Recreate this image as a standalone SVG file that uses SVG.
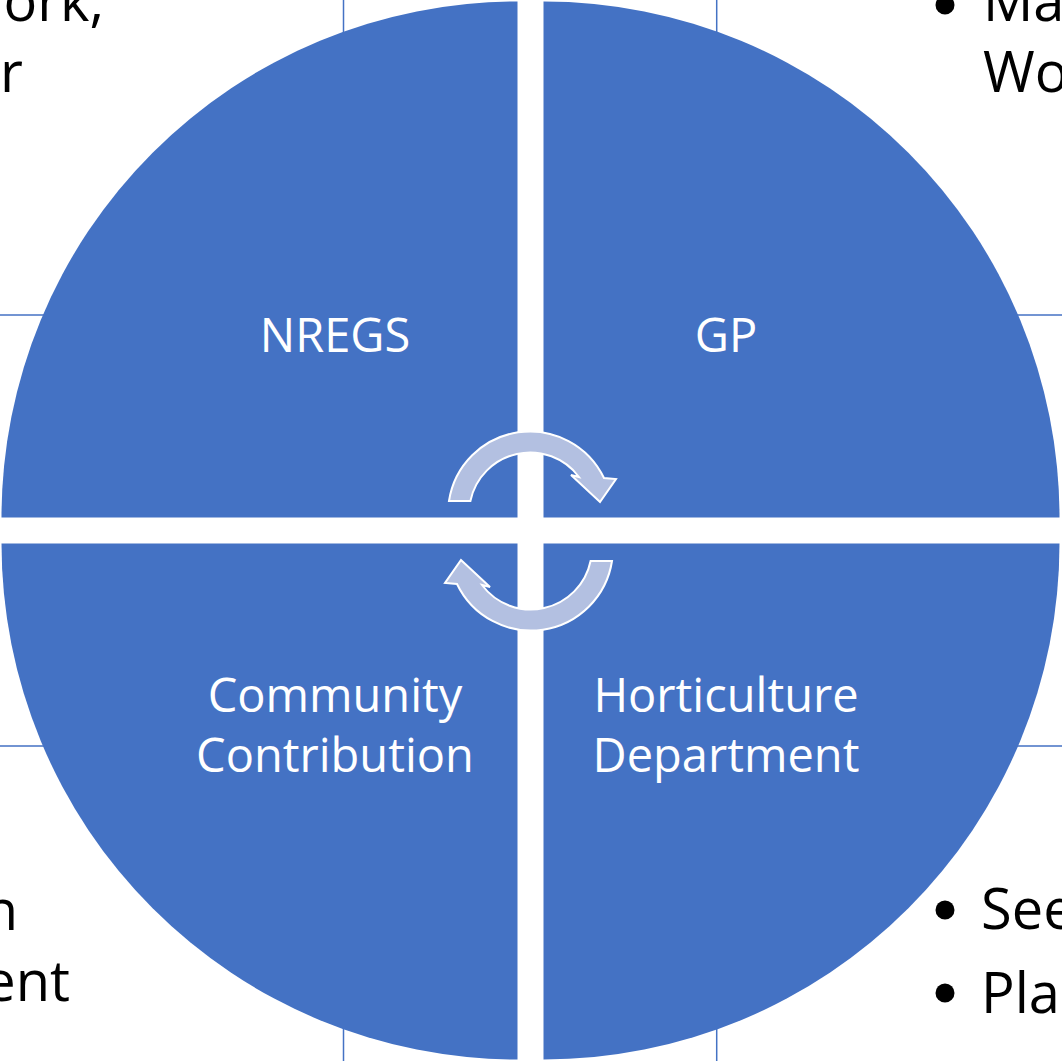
<svg xmlns="http://www.w3.org/2000/svg" width="1062" height="1061" viewBox="0 0 1062 1061">
  <defs>
    <style>
      .box { fill: none; stroke: #4472C4; stroke-width: 1.5; }
      .side { font-family: "Open Sans", "Liberation Sans", sans-serif; font-size: 56px; fill: #000000; }
      .dot { fill: #000000; }
      .quad { fill: #4472C4; }
      .lbl { font-family: "Open Sans", "Liberation Sans", sans-serif; font-size: 47px; fill: #FFFFFF; text-anchor: middle; }
      .arrow { fill: #B3C0E1; stroke: #FFFFFF; stroke-width: 2; stroke-linejoin: miter; }
    </style>
  </defs>
  <rect x="0" y="0" width="1062" height="1061" fill="#FFFFFF"/>

  <!-- background text boxes (mostly hidden behind the circle) -->
  <g id="box-top-left">
    <rect class="box" x="-20" y="-20" width="363.5" height="335"/>
    <text class="side" text-anchor="end" x="104" y="21">ork,</text>
    <text class="side" text-anchor="end" x="23" y="92">r</text>
  </g>
  <g id="box-top-right">
    <rect class="box" x="716.7" y="-20" width="400" height="335"/>
    <circle class="dot" cx="945" cy="5" r="9.5"/>
    <text class="side" x="983" y="21">Ma</text>
    <text class="side" x="983" y="92">Wo</text>
  </g>
  <g id="box-bottom-left">
    <rect class="box" x="-20" y="746" width="363.5" height="340"/>
    <text class="side" text-anchor="end" x="18" y="930">n</text>
    <text class="side" text-anchor="end" x="70" y="1001">ent</text>
  </g>
  <g id="box-bottom-right">
    <rect class="box" x="716.7" y="746" width="400" height="340"/>
    <circle class="dot" cx="945" cy="910" r="9.5"/>
    <text class="side" x="981" y="929">See</text>
    <circle class="dot" cx="945" cy="993" r="9.5"/>
    <text class="side" x="981" y="1013">Pla</text>
  </g>

  <!-- quadrants -->
  <g id="node-nregs">
    <path class="quad" d="M517.5,517.5 L517.5,1.5 A516,516 0 0 0 1.5,517.5 Z"/>
    <text class="lbl" x="335" y="352">NREGS</text>
  </g>
  <g id="node-gp">
    <path class="quad" d="M543.5,517.5 L1059.5,517.5 A516,516 0 0 0 543.5,1.5 Z"/>
    <text class="lbl" x="726" y="352">GP</text>
  </g>
  <g id="node-community">
    <path class="quad" d="M517.5,543.5 L1.5,543.5 A516,516 0 0 0 517.5,1059.5 Z"/>
    <text class="lbl" x="335" y="712">Community</text>
    <text class="lbl" x="335" y="772">Contribution</text>
  </g>
  <g id="node-horticulture">
    <path class="quad" d="M543.5,543.5 L543.5,1059.5 A516,516 0 0 0 1059.5,543.5 Z"/>
    <text class="lbl" x="726" y="712">Horticulture</text>
    <text class="lbl" x="726" y="772">Department</text>
  </g>

  <!-- cycle arrows -->
  <g id="connectors">
    <path id="arrow-top" class="arrow" d="M449,501 A82,82 0 0 1 604,478 L616,479 L600,502 L571,475 L579,477 A61,61 0 0 0 470.4,501 Z"/>
    <path id="arrow-bottom" class="arrow" transform="rotate(180 530.5 531)" d="M449,501 A82,82 0 0 1 604,478 L616,479 L600,502 L571,475 L579,477 A61,61 0 0 0 470.4,501 Z"/>
  </g>
</svg>
